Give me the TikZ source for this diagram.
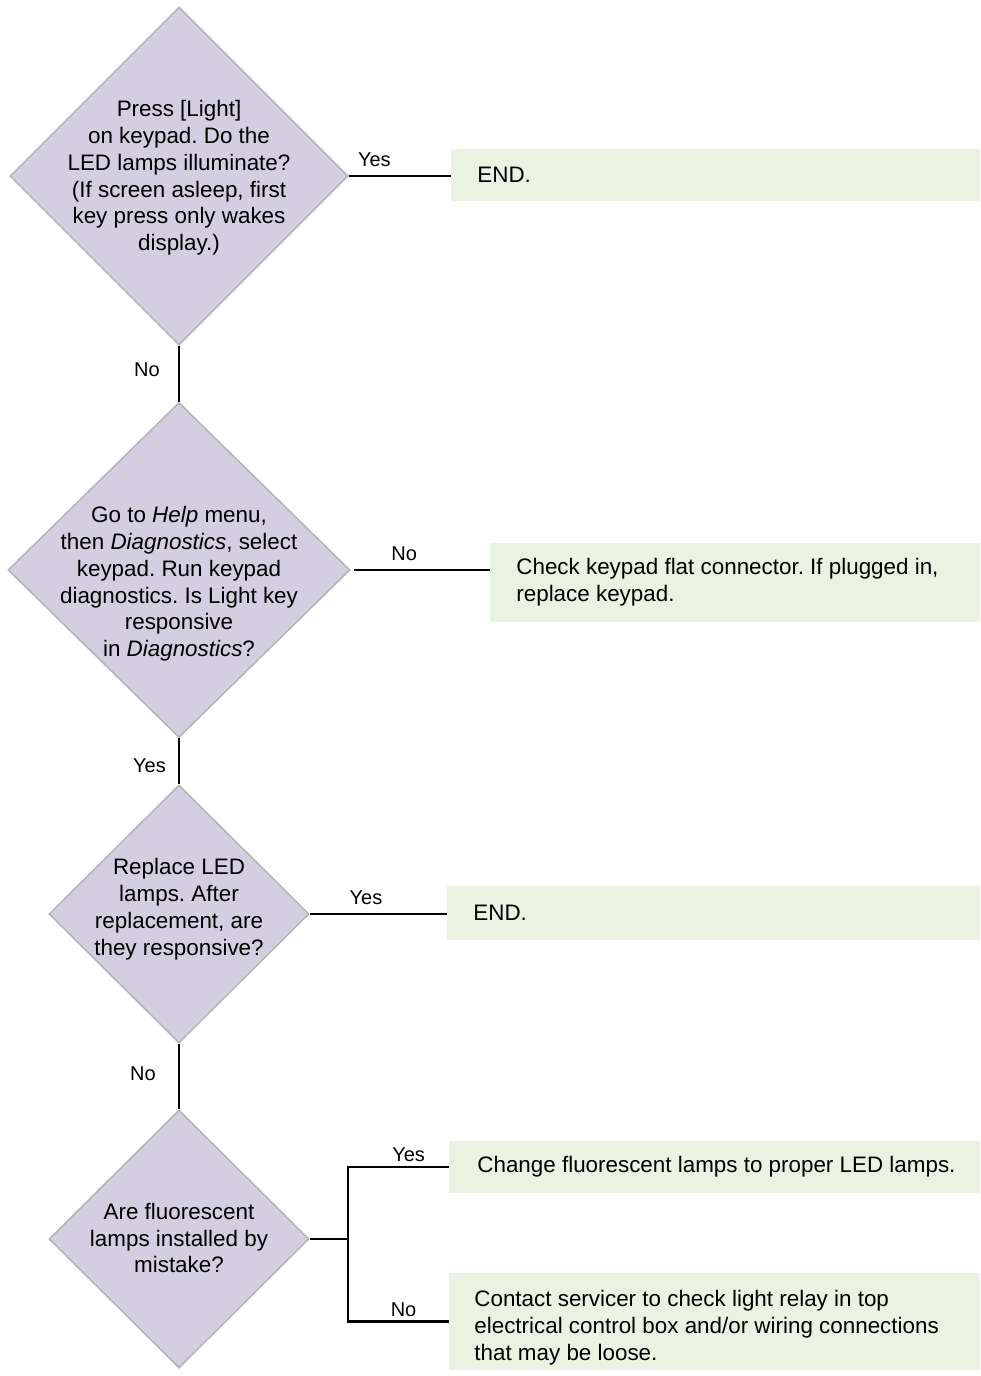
\documentclass[tikz,border=0pt]{standalone}
\usepackage{fontspec}
\setmainfont{Liberation Sans}
\usetikzlibrary{shapes.geometric}
\definecolor{dfill}{HTML}{D3CEE0}
\definecolor{dline}{HTML}{B4B4B4}
\definecolor{bfill}{HTML}{EAF2E2}
\frenchspacing
\begin{document}
\frenchspacing
\begin{tikzpicture}[x=0.5pt,y=-0.5pt,
  dia/.style={diamond, draw=dline, line width=0.75pt, fill=dfill, inner sep=0pt, aspect=1},
  dtext/.style={align=center, font=\fontsize{11.2}{13.4}\selectfont, inner sep=0pt},
  box/.style={rectangle, fill=bfill, draw=none, inner sep=0pt, anchor=west},
  btext/.style={align=left, font=\fontsize{11.2}{13.4}\selectfont, inner sep=0pt, anchor=west},
  conn/.style={draw=black, line width=1.25pt},
  lbl/.style={font=\fontsize{10}{12}\selectfont, inner sep=0pt}]
\useasboundingbox (0,0) rectangle (980,1376);

% diamonds
\node[dia, minimum width=169pt, minimum height=169pt] (d1) at (179,176) {};
\node[dtext] (d1t) at (179,178) {Press [Light]\\on keypad. Do the\\LED lamps illuminate?\\(If screen asleep, first\\key press only wakes\\display.)};

\node[dia, minimum width=171pt, minimum height=167.5pt] (d2) at (179,570) {};
\node[dtext] (d2t) at (179,584) {Go to \textit{Help} menu,\\then \textit{Diagnostics}, select\\keypad. Run keypad\\diagnostics. Is Light key\\responsive\\in \textit{Diagnostics}?};

\node[dia, minimum width=130pt, minimum height=129pt] (d3) at (179,914) {};
\node[dtext] (d3t) at (179,909) {Replace LED\\lamps. After\\replacement, are\\they responsive?};

\node[dia, minimum width=130pt, minimum height=129pt] (d4) at (179,1239) {};
\node[dtext] (d4t) at (179,1238) {Are fluorescent\\lamps installed by\\mistake?};

% boxes
\node[box, minimum width=264.5pt, minimum height=26pt] (e1) at (451,175) {};
\node[btext] (e1t) at ([xshift=13pt]e1.west) {END.};

\node[box, minimum width=245pt, minimum height=39.5pt] (e2) at (490,582.5) {};
\node[btext] (e2t) at ([xshift=13pt]e2.west) {Check keypad flat connector. If plugged in,\\replace keypad.};

\node[box, minimum width=266.5pt, minimum height=27pt] (e3) at (447,913) {};
\node[btext] (e3t) at ([xshift=13pt]e3.west) {END.};

\node[box, minimum width=265.5pt, minimum height=26pt] (e4) at (449,1167) {};
\node[btext] (e4t) at ([xshift=14pt]e4.west) {Change fluorescent lamps to proper LED lamps.};

\node[box, minimum width=265.5pt, minimum height=48.5pt] (e5) at (449,1321.5) {};
\node[btext] (e5t) at ([xshift=12.5pt,yshift=-3pt]e5.west) {Contact servicer to check light relay in top\\electrical control box and/or wiring connections\\that may be loose.};

% connectors
\draw[conn] (d1.east) -- node[lbl, above=4pt, pos=0.25] {Yes} (d1.east -| e1.west);
\draw[conn] (d1.south) -- node[lbl, left=9pt, pos=0.42] {No} (d2.north);
\draw[conn] ([xshift=1.5pt]d2.east) -- node[lbl, above=4pt, pos=0.37] {No} (d2.east -| e2.west);
\draw[conn] (d2.south) -- node[lbl, left=6pt, pos=0.6] {Yes} (d3.north);
\draw[conn] (d3.east) -- node[lbl, above=4pt, pos=0.41] {Yes} (d3.east -| e3.west);
\draw[conn] (d3.south) -- node[lbl, left=11pt, pos=0.46] {No} (d4.north);

\coordinate (j) at (348,1239);
\draw[conn] (d4.east) -- (j);
\draw[conn] (j) |- node[lbl, above=2pt, pos=0.8] {Yes} (e4.west);
\draw[conn] (j) |- node[lbl, above=2pt, pos=0.775] {No} (e5.west);
\end{tikzpicture}
\end{document}
